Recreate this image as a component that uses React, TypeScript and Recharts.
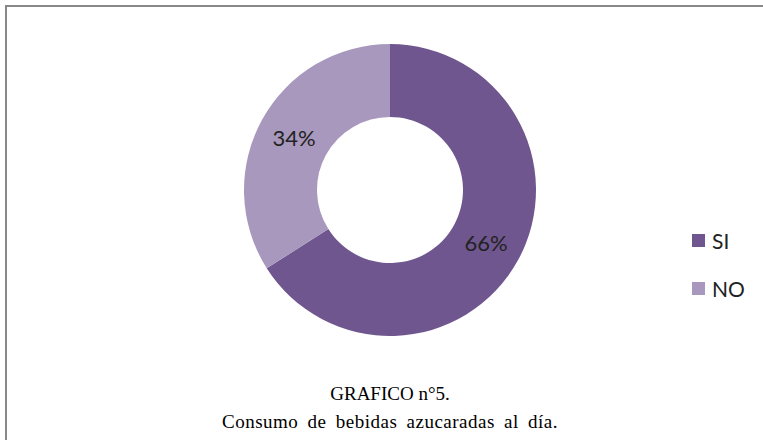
import { PieChart, Pie, Cell, Legend } from 'recharts'

const categories = ['SI', 'NO']
const values = [66, 34]
const colors = ['#6f568f', '#a898bd']

const data = categories.map((name, i) => ({ name, value: values[i] }))

const RADIAN = Math.PI / 180

// eslint-disable-next-line @typescript-eslint/no-explicit-any
function renderLabel(props: any) {
  const { cx, cy, midAngle, innerRadius, outerRadius, value } = props
  const r = (innerRadius + outerRadius) / 2
  const x = cx + r * Math.cos(-midAngle * RADIAN)
  const y = cy + r * Math.sin(-midAngle * RADIAN)
  return (
    <text x={x} y={y} fill="#222" fontSize={22} fontFamily="Lato, sans-serif" textAnchor="middle" dominantBaseline="central">
      {`${value}%`}
    </text>
  )
}

function LegendContent() {
  return (
    <div style={{ fontFamily: 'Lato, sans-serif', fontSize: 21, color: '#222' }}>
      {data.map((d, i) => (
        <div key={d.name} style={{ display: 'flex', alignItems: 'center', height: 24, marginBottom: i === 0 ? 24 : 0 }}>
          <span style={{ display: 'inline-block', width: 13, height: 13, background: colors[i], marginRight: 7 }} />
          {d.name}
        </div>
      ))}
    </div>
  )
}

export default function App() {
  return (
    <div style={{ position: 'fixed', left: 0, top: 0, width: 763, height: 440, background: '#fff', overflow: 'hidden' }}>
      <div style={{ position: 'absolute', left: 5, top: 5, width: 780, height: 460, borderTop: '2px solid #888', borderLeft: '2px solid #888' }} />
      <div style={{ position: 'absolute', left: 0, top: 0 }}>
        <PieChart width={763} height={370} margin={{ top: 0, right: 0, bottom: 0, left: 0 }}>
          <Pie
            data={data}
            dataKey="value"
            nameKey="name"
            cx={390}
            cy={190}
            innerRadius={73}
            outerRadius={146}
            startAngle={90}
            endAngle={-270}
            stroke="none"
            label={renderLabel}
            labelLine={false}
            isAnimationActive={false}
          >
            {data.map((d, i) => (
              <Cell key={d.name} fill={colors[i]} />
            ))}
          </Pie>
          <Legend content={<LegendContent />} wrapperStyle={{ left: 692, top: 228, width: 70 }} />
        </PieChart>
      </div>
      <div
        style={{
          position: 'absolute',
          left: 0,
          width: 780,
          top: 380,
          textAlign: 'center',
          fontFamily: '"Liberation Serif", serif',
          fontSize: 19,
          lineHeight: '28px',
          color: '#000',
        }}
      >
        GRAFICO n°5.
        <br />
        <span style={{ letterSpacing: 0.5, wordSpacing: 4 }}>Consumo de bebidas azucaradas al día.</span>
      </div>
    </div>
  )
}
